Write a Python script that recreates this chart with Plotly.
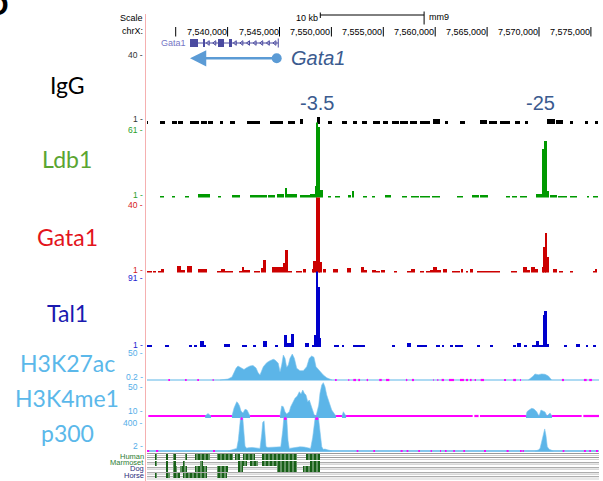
import plotly.graph_objects as go
import numpy as np

W, H = 603, 481
LPX, RPX = 147, 599

# ---------------- data ----------------
X_RANGE_KB = [7532.235, 7575.78]

RULER_TICKS_KB = [7535, 7540, 7545, 7550, 7555, 7560, 7565, 7570, 7575]
RULER_LABELS = ["", "7,540,000", "7,545,000", "7,550,000", "7,555,000",
                "7,560,000", "7,565,000", "7,570,000", "7,575,000"]
SCALE_BAR_START_KB = 7548.93
SCALE_BAR_KB = 10

GENE_NAME = "Gata1"
GENE_SPAN_KB = (7536.38, 7544.88)
GENE_EXONS_KB = [(7536.38, 7537.15), (7537.68, 7537.82), (7539.08, 7539.65), (7540.13, 7540.42)]
TSS_KB = 7544.73
ARROW_END_KB = 7536.38

PEAK_LABELS = ["-3.5", "-25"]
PEAK_LABEL_KB = [7548.58, 7570.10]

# (start_kb, end_kb, value)
IGG = [
    (7532.14, 7532.36, 2.5), (7533.49, 7533.97, 2.5), (7534.61, 7535.10, 2.5), (7535.25, 7535.73, 2.5),
    (7536.38, 7537.20, 2.8), (7537.40, 7538.00, 2.8), (7538.15, 7538.62, 2.5), (7539.26, 7539.59, 2.5),
    (7540.23, 7540.71, 2.5), (7541.83, 7543.12, 2.5), (7544.08, 7545.36, 2.8), (7545.85, 7546.49, 2.5),
    (7546.97, 7547.29, 4.0), (7548.57, 7548.89, 5.0), (7549.70, 7550.02, 2.5), (7550.98, 7551.46, 2.5),
    (7552.10, 7552.43, 2.5), (7552.91, 7553.39, 2.5), (7554.03, 7554.68, 2.8), (7555.00, 7555.48, 2.5),
    (7555.80, 7556.50, 3.0), (7556.65, 7557.40, 2.8), (7557.55, 7558.20, 3.0), (7558.52, 7559.49, 2.5),
    (7559.81, 7560.45, 4.0), (7560.94, 7561.26, 2.5), (7562.39, 7562.87, 2.5), (7564.31, 7565.00, 3.2),
    (7565.15, 7565.92, 3.0), (7566.24, 7567.20, 2.8), (7567.68, 7568.17, 2.5), (7568.65, 7568.97, 2.5),
    (7570.73, 7571.50, 3.8), (7571.60, 7572.34, 3.5), (7572.98, 7573.30, 2.8), (7574.43, 7574.75, 2.5),
    (7575.39, 7575.71, 2.5),
]
LDB1 = [
    (7533.49, 7533.87, 2.5), (7534.61, 7534.93, 2.5), (7535.90, 7536.31, 2.5), (7537.18, 7538.30, 3.5),
    (7539.10, 7539.33, 2.5), (7540.39, 7541.19, 3.0), (7542.16, 7543.76, 3.0), (7543.92, 7544.60, 3.0),
    (7544.75, 7545.43, 3.5), (7545.53, 7545.75, 9.0), (7545.75, 7546.65, 4.0), (7546.97, 7547.94, 3.0),
    (7547.94, 7548.42, 3.5), (7548.42, 7548.55, 10.0), (7548.55, 7548.74, 70.0), (7548.74, 7548.90, 58.0),
    (7548.90, 7549.16, 7.0), (7549.70, 7549.93, 2.5), (7550.34, 7550.82, 2.5), (7551.63, 7551.85, 3.0),
    (7551.98, 7552.20, 6.4), (7553.07, 7553.39, 2.5), (7553.87, 7554.20, 2.5), (7555.16, 7555.71, 3.0),
    (7556.77, 7557.26, 2.5), (7557.63, 7558.40, 2.5), (7558.55, 7559.49, 2.5), (7559.65, 7560.45, 2.5),
    (7562.07, 7562.71, 2.5), (7563.51, 7564.20, 3.0), (7564.35, 7565.12, 3.0), (7566.82, 7567.20, 2.5),
    (7567.36, 7567.84, 2.5), (7568.17, 7568.81, 2.5), (7569.71, 7570.25, 4.0), (7570.35, 7570.51, 40.0),
    (7570.51, 7570.80, 47.0), (7570.80, 7570.99, 6.0), (7571.05, 7571.70, 3.0), (7571.86, 7572.66, 2.5),
    (7572.98, 7573.62, 2.5), (7574.59, 7574.85, 2.5), (7575.23, 7575.71, 2.5),
]
GATA1 = [
    (7532.14, 7532.68, 2.0), (7532.84, 7533.10, 2.0), (7533.33, 7533.55, 2.0), (7533.55, 7533.87, 3.0),
    (7535.16, 7535.48, 4.5), (7535.48, 7535.90, 2.5), (7536.12, 7536.54, 4.3), (7537.18, 7537.98, 3.0),
    (7538.95, 7539.33, 2.0), (7539.33, 7539.75, 3.0), (7539.75, 7540.55, 2.0), (7541.19, 7541.35, 2.0),
    (7541.35, 7541.58, 4.0), (7541.58, 7542.16, 2.5), (7542.54, 7543.12, 2.0), (7543.28, 7543.37, 3.5),
    (7543.37, 7543.70, 7.5), (7544.24, 7545.30, 3.7), (7545.37, 7545.53, 5.8), (7545.53, 7545.78, 12.6),
    (7545.85, 7546.17, 2.0), (7546.59, 7547.13, 2.0), (7547.29, 7547.52, 3.0), (7548.10, 7548.32, 3.0),
    (7548.32, 7548.51, 6.9), (7548.51, 7548.90, 45.0), (7548.90, 7549.06, 6.3), (7549.16, 7549.48, 3.0),
    (7550.18, 7550.66, 3.0), (7551.53, 7551.85, 3.5), (7552.82, 7553.14, 4.0), (7553.14, 7553.39, 2.5),
    (7553.87, 7554.29, 2.5), (7554.29, 7554.68, 2.0), (7554.74, 7555.16, 2.5), (7556.03, 7556.29, 2.0),
    (7557.25, 7557.63, 2.0), (7557.63, 7558.05, 3.0), (7558.53, 7558.92, 2.0), (7559.08, 7559.50, 2.0),
    (7559.56, 7559.75, 2.5), (7559.75, 7560.13, 4.0), (7560.13, 7560.52, 2.5), (7560.71, 7561.17, 3.0),
    (7561.58, 7562.39, 2.0), (7562.45, 7562.71, 3.0), (7562.96, 7563.19, 2.0), (7563.35, 7563.61, 3.0),
    (7564.00, 7566.24, 2.0), (7567.27, 7567.84, 2.0), (7568.49, 7568.87, 4.0), (7568.87, 7569.12, 2.5),
    (7569.20, 7569.61, 4.0), (7569.61, 7569.93, 3.0), (7570.35, 7570.48, 4.0), (7570.48, 7570.64, 14.3),
    (7570.64, 7570.80, 22.0), (7570.80, 7570.99, 9.0), (7571.38, 7571.70, 3.0), (7571.96, 7572.34, 2.0),
    (7572.98, 7573.30, 2.0), (7575.23, 7575.39, 2.0), (7575.39, 7575.62, 3.0),
]
TAL1 = [
    (7532.14, 7532.68, 3.4), (7533.97, 7534.39, 3.4), (7536.31, 7536.54, 3.4), (7536.79, 7537.02, 3.4),
    (7537.34, 7537.73, 8.0), (7537.73, 7537.92, 4.0), (7539.68, 7540.23, 4.5), (7541.35, 7541.83, 3.4),
    (7542.48, 7542.73, 3.4), (7543.37, 7543.76, 8.0), (7544.56, 7544.82, 3.4), (7545.43, 7545.69, 16.0),
    (7545.69, 7546.11, 6.0), (7546.11, 7546.40, 17.0), (7547.45, 7547.84, 6.0), (7548.16, 7548.38, 3.4),
    (7548.38, 7548.51, 15.0), (7548.51, 7548.74, 95.0), (7548.74, 7548.90, 74.0), (7548.90, 7549.00, 12.0),
    (7550.25, 7550.76, 3.4), (7550.98, 7551.21, 3.4), (7552.10, 7553.23, 3.4), (7555.80, 7556.12, 3.4),
    (7557.31, 7557.63, 6.0), (7558.21, 7559.17, 3.4), (7560.07, 7560.46, 3.4), (7560.62, 7560.84, 3.4),
    (7561.42, 7561.68, 3.4), (7561.90, 7562.64, 3.4), (7564.06, 7564.31, 3.4), (7565.28, 7565.53, 3.4),
    (7567.46, 7567.78, 3.4), (7567.84, 7568.23, 5.5), (7568.55, 7568.87, 3.4), (7569.29, 7569.71, 3.4),
    (7569.71, 7570.03, 8.0), (7570.03, 7570.41, 3.4), (7570.41, 7570.51, 40.0), (7570.51, 7570.80, 45.0),
    (7570.80, 7570.99, 5.0), (7572.41, 7572.66, 3.4), (7573.56, 7573.95, 4.5), (7574.53, 7574.75, 3.4),
    (7575.17, 7575.49, 3.4),
]

# histone / p300 profiles: clusters of (kb, value)
H3K27AC = [
    [(7539.27, 0.2), (7540.04, 2.0), (7540.42, 5.7), (7540.62, 15.0), (7540.81, 21.8), (7541.00, 26.0),
     (7541.29, 23.3), (7541.58, 19.6), (7541.87, 23.3), (7542.16, 26.0), (7542.45, 26.9), (7542.74, 22.3),
     (7542.93, 14.0), (7543.12, 9.4), (7543.44, 24.7), (7543.77, 32.1), (7544.08, 35.8), (7544.40, 38.4),
     (7544.57, 37.1), (7544.88, 31.0), (7545.05, 15.5), (7545.21, 27.9), (7545.37, 46.3), (7545.53, 40.2),
     (7545.69, 23.6), (7545.85, 27.9), (7546.01, 40.2), (7546.23, 48.1), (7546.43, 40.2), (7546.66, 21.8),
     (7546.97, 17.4), (7547.29, 17.4), (7547.62, 24.7), (7547.87, 40.2), (7548.10, 44.5), (7548.32, 42.1),
     (7548.52, 24.7), (7548.74, 19.9), (7548.97, 15.5), (7549.22, 9.4), (7549.55, 4.4), (7549.87, 1.5),
     (7550.06, 0.2)],
    [(7568.97, 0.2), (7569.20, 3.3), (7569.45, 7.6), (7569.61, 11.3), (7569.93, 10.0), (7570.26, 11.3),
     (7570.58, 10.7), (7570.90, 7.6), (7571.13, 1.5), (7571.22, 0.2)],
]
H3K27AC_CLIPPED = [
    (7534.29, 7534.45), (7535.90, 7536.06), (7537.08, 7537.24), (7538.56, 7538.66), (7550.35, 7550.51),
    (7551.63, 7551.72), (7552.11, 7552.37), (7552.59, 7552.76), (7553.40, 7553.53), (7554.61, 7554.85),
    (7555.26, 7555.58), (7557.18, 7557.31), (7557.76, 7557.96), (7559.82, 7559.88), (7560.20, 7560.30),
    (7560.62, 7560.85), (7561.33, 7561.81), (7562.39, 7562.77), (7562.96, 7563.16), (7563.35, 7563.51),
    (7563.80, 7563.93), (7564.38, 7564.70), (7566.63, 7566.82), (7567.52, 7567.78), (7568.17, 7568.26),
    (7572.21, 7572.41), (7574.33, 7574.59), (7574.84, 7575.10),
]
H3K4ME1 = [
    [(7537.84, 10), (7538.11, 13.2), (7538.40, 10)],
    [(7540.42, 10), (7540.62, 20.3), (7540.88, 28.4), (7541.00, 26.8), (7541.15, 22.9), (7541.29, 16.5),
     (7541.48, 13.9), (7541.68, 18.6), (7541.87, 17.7), (7542.06, 12.6), (7542.16, 10)],
    [(7545.05, 10), (7545.21, 22.9), (7545.37, 22.0), (7545.53, 15.5), (7545.69, 12.6), (7545.94, 15.5),
     (7546.08, 22.0), (7546.27, 26.4), (7546.49, 32.8), (7546.71, 35.8), (7546.91, 41.3), (7547.07, 38.4),
     (7547.24, 43.5), (7547.39, 39.3), (7547.55, 37.1), (7547.72, 28.4), (7547.87, 30.6), (7548.03, 24.2),
     (7548.20, 17.7), (7548.35, 11.3), (7548.52, 10), (7548.64, 15.5), (7548.78, 24.2), (7548.90, 39.3),
     (7549.07, 50.0), (7549.22, 53.0), (7549.38, 47.8), (7549.55, 37.1), (7549.70, 30.6), (7549.87, 24.2),
     (7550.03, 17.7), (7550.25, 13.5), (7550.44, 10)],
    [(7551.02, 10), (7551.15, 15.5), (7551.41, 10)],
    [(7568.75, 10), (7568.84, 15.5), (7569.04, 17.7), (7569.30, 19.9), (7569.52, 19.0), (7569.78, 15.5),
     (7570.00, 10), (7570.19, 17.7), (7570.38, 16.5), (7570.58, 15.2), (7570.77, 10), (7571.06, 13.9),
     (7571.25, 10)],
]
H3K4ME1_CLIPPED = [(7532.36, 7563.61), (7563.77, 7564.18), (7564.31, 7574.11), (7574.27, 7575.78)]
P300 = [
    [(7540.04, 2), (7540.42, 15), (7540.62, 30), (7540.88, 33.6), (7541.03, 130.7), (7541.13, 286),
     (7541.26, 420), (7541.45, 420), (7541.58, 209), (7541.68, 60.5), (7541.84, 35), (7541.97, 40),
     (7542.36, 45), (7542.74, 40), (7543.03, 35), (7543.12, 33.6), (7543.29, 209), (7543.38, 345),
     (7543.51, 365), (7543.60, 209), (7543.70, 52), (7543.89, 45), (7544.28, 45), (7544.66, 50),
     (7544.95, 45), (7545.12, 52), (7545.31, 248), (7545.43, 420), (7545.69, 420), (7545.82, 131),
     (7545.94, 33.6), (7546.20, 40), (7546.59, 50), (7546.97, 52), (7547.36, 50), (7547.74, 45),
     (7548.00, 33.6), (7548.20, 169), (7548.32, 326), (7548.45, 420), (7548.74, 420), (7548.90, 248),
     (7549.07, 52), (7549.22, 22), (7549.38, 25), (7549.67, 15), (7550.06, 2)],
    [(7569.60, 2), (7569.93, 13.7), (7570.10, 33.6), (7570.29, 131), (7570.41, 228), (7570.55, 268),
     (7570.67, 189), (7570.80, 52), (7570.99, 22), (7571.38, 2)],
]
P300_CLIPPED_HIGH = [(7541.26, 7541.45), (7545.43, 7545.69), (7548.45, 7548.74)]
P300_CLIPPED_LOW = [
    (7532.24, 7532.45), (7533.10, 7533.32), (7538.59, 7538.79), (7552.44, 7552.59), (7554.04, 7554.20),
    (7556.67, 7556.86), (7557.25, 7557.41), (7558.37, 7558.53), (7559.56, 7559.69), (7560.46, 7560.56),
    (7560.94, 7561.10), (7561.74, 7561.90), (7562.71, 7562.87), (7564.70, 7564.89), (7566.88, 7567.07),
    (7568.17, 7568.33), (7568.42, 7568.55), (7572.28, 7572.44), (7574.33, 7574.52), (7574.84, 7575.01),
    (7575.49, 7575.68),
]

CONS_SPECIES = ["Human", "Marmoset", "Dog", "Horse"]
HUMAN_BLOCKS = [(7533.01, 7533.23), (7534.07, 7534.29), (7534.77, 7535.03), (7535.90, 7536.12), (7536.86, 7538.30),
                (7538.95, 7540.55), (7540.71, 7541.19), (7541.51, 7542.64), (7543.29, 7546.66), (7547.55, 7548.90)]
MARMOSET_BLOCKS = [(7533.01, 7533.23), (7534.07, 7534.29), (7534.77, 7535.00), (7535.73, 7535.90), (7537.34, 7537.66),
                   (7541.03, 7541.84), (7542.16, 7542.96), (7543.29, 7546.66), (7547.94, 7548.90)]
DOG_BLOCKS = [(7534.07, 7534.29), (7534.77, 7535.10), (7535.41, 7536.06), (7536.86, 7537.99), (7538.95, 7540.07),
              (7541.03, 7541.51), (7544.73, 7546.66), (7547.29, 7548.90)]
HORSE_BLOCKS = [(7533.01, 7533.23), (7534.07, 7534.45), (7534.77, 7535.41), (7535.73, 7537.99), (7539.01, 7539.97)]

# ---------------- styling / layout helpers ----------------
LIGHT_BLUE = "#5cb5e8"
MAGENTA = "#ff00ff"


def pyp(p):
    return 1 - p / H


def pxp(p):
    return (p - LPX) / (RPX - LPX)


def lin_axis(dom_top, dom_bot, top_px, top_val, bot_px, bot_val):
    k = (top_val - bot_val) / (bot_px - top_px)
    lo = bot_val - (dom_bot - bot_px) * k
    hi = top_val + (top_px - dom_top) * k
    return dict(domain=[pyp(dom_bot), pyp(dom_top)], range=[lo, hi], visible=False,
                fixedrange=True, anchor="x")


fig = go.Figure()


def add_bars(segs, base, color, yref):
    fig.add_trace(go.Bar(
        x=[(s + e) / 2 for s, e, v in segs], width=[e - s for s, e, v in segs],
        y=[v - base for s, e, v in segs], base=base, marker=dict(color=color, line=dict(width=0)),
        yaxis=yref, showlegend=False, hoverinfo="skip"))


def seg_line(segs, val):
    xs, ys = [], []
    for s, e in segs:
        xs += [s, e, None]
        ys += [val, val, None]
    return xs, ys


# ---- header (pixel coordinates on yaxis 'y') ----
tx, ty = [], []
for t in RULER_TICKS_KB:
    tx += [t, t, None]
    ty += [27, 36.5, None]
fig.add_trace(go.Scatter(x=tx, y=ty, mode="lines", line=dict(color="black", width=1),
                         yaxis="y", showlegend=False, hoverinfo="skip"))
sb_e = SCALE_BAR_START_KB + SCALE_BAR_KB
fig.add_trace(go.Scatter(
    x=[SCALE_BAR_START_KB, sb_e, None, SCALE_BAR_START_KB, SCALE_BAR_START_KB, None, sb_e, sb_e],
    y=[15, 15, None, 12.5, 18, None, 11.5, 24.5], mode="lines", line=dict(color="black", width=1),
    yaxis="y", showlegend=False, hoverinfo="skip"))
GENE_COL = "#4b4ba0"
fig.add_trace(go.Scatter(x=[GENE_SPAN_KB[0], GENE_SPAN_KB[1], None, GENE_SPAN_KB[1], GENE_SPAN_KB[1]],
                         y=[43, 43, None, 38.5, 47.5], mode="lines", line=dict(color=GENE_COL, width=1),
                         yaxis="y", showlegend=False, hoverinfo="skip"))
chev = []
for (a, b) in zip([e for s, e in GENE_EXONS_KB[:-1]] + [GENE_EXONS_KB[-1][1]],
                  [s for s, e in GENE_EXONS_KB[1:]] + [GENE_SPAN_KB[1]]):
    n = int((b - a) / 0.6)
    for i in range(n):
        chev.append(a + (i + 0.5) * (b - a) / max(n, 1))
fig.add_trace(go.Scatter(x=chev, y=[43] * len(chev), mode="markers",
                         marker=dict(symbol="triangle-left-open", size=4, color=GENE_COL,
                                     line=dict(width=1, color=GENE_COL)),
                         yaxis="y", showlegend=False, hoverinfo="skip"))
fig.add_trace(go.Bar(x=[(s + e) / 2 for s, e in GENE_EXONS_KB], width=[e - s for s, e in GENE_EXONS_KB],
                     y=[8] * len(GENE_EXONS_KB), base=39, marker=dict(color=GENE_COL, line=dict(width=0)),
                     yaxis="y", showlegend=False, hoverinfo="skip"))
ARROW_COL = "#5b9bd5"
fig.add_trace(go.Scatter(x=[TSS_KB], y=[58.3], mode="markers", marker=dict(size=10, color=ARROW_COL),
                         yaxis="y", showlegend=False, hoverinfo="skip"))

# ---- tracks ----
add_bars(IGG, 1, "black", "y2")
add_bars(LDB1, 1, "#009900", "y3")
add_bars(GATA1, 1, "#cc0000", "y4")
add_bars(TAL1, 1, "#0000cc", "y5")

xs, ys = seg_line([(X_RANGE_KB[0], X_RANGE_KB[1])], 0.2)
fig.add_trace(go.Scatter(x=xs, y=ys, mode="lines", line=dict(color=LIGHT_BLUE, width=1.2),
                         yaxis="y6", showlegend=False, hoverinfo="skip"))
for cl in H3K27AC:
    fig.add_trace(go.Scatter(x=[p[0] for p in cl], y=[p[1] for p in cl], mode="lines", fill="tozeroy",
                             fillcolor=LIGHT_BLUE, line=dict(color="#7cc4ee", width=0.6),
                             yaxis="y6", showlegend=False, hoverinfo="skip"))
xs, ys = seg_line(H3K27AC_CLIPPED, 0.2)
fig.add_trace(go.Scatter(x=xs, y=ys, mode="lines", line=dict(color=MAGENTA, width=2.2),
                         yaxis="y6", showlegend=False, hoverinfo="skip"))

xs, ys = seg_line(H3K4ME1_CLIPPED, 10)
fig.add_trace(go.Scatter(x=xs, y=ys, mode="lines", line=dict(color=MAGENTA, width=2.2),
                         yaxis="y7", showlegend=False, hoverinfo="skip"))
for cl in H3K4ME1:
    fig.add_trace(go.Scatter(x=[p[0] for p in cl], y=[p[1] for p in cl], mode="lines", fill="tozeroy",
                             fillcolor=LIGHT_BLUE, line=dict(color="#7cc4ee", width=0.6),
                             yaxis="y7", showlegend=False, hoverinfo="skip"))

xs, ys = seg_line([(X_RANGE_KB[0], X_RANGE_KB[1])], 2)
fig.add_trace(go.Scatter(x=xs, y=ys, mode="lines", line=dict(color=LIGHT_BLUE, width=1.5),
                         yaxis="y8", showlegend=False, hoverinfo="skip"))
for cl in P300:
    fig.add_trace(go.Scatter(x=[p[0] for p in cl], y=[p[1] for p in cl], mode="lines", fill="tozeroy",
                             fillcolor=LIGHT_BLUE, line=dict(color="#7cc4ee", width=0.6),
                             yaxis="y8", showlegend=False, hoverinfo="skip"))
xs, ys = seg_line(P300_CLIPPED_LOW, 2)
fig.add_trace(go.Scatter(x=xs, y=ys, mode="lines", line=dict(color=MAGENTA, width=2),
                         yaxis="y8", showlegend=False, hoverinfo="skip"))
xs, ys = seg_line(P300_CLIPPED_HIGH, 392)
fig.add_trace(go.Scatter(x=xs, y=ys, mode="lines", line=dict(color=MAGENTA, width=2.5),
                         yaxis="y8", showlegend=False, hoverinfo="skip"))

# conservation (pixel coordinates on y9)
ROW_TOP = [453.5, 460.5, 466.3, 472.8]
ROW_H = [6.0, 5.0, 5.4, 5.4]
for blocks, top, hgt in zip([HUMAN_BLOCKS, MARMOSET_BLOCKS, DOG_BLOCKS, HORSE_BLOCKS], ROW_TOP, ROW_H):
    fig.add_trace(go.Bar(x=[(s + e) / 2 for s, e in blocks], width=[e - s for s, e in blocks],
                         y=[hgt] * len(blocks), base=top,
                         marker=dict(color="#175f17", line=dict(width=0),
                                     pattern=dict(shape="|", fgcolor="white", fgopacity=0.55,
                                                  size=4, solidity=0.3, fillmode="overlay")),
                         yaxis="y9", showlegend=False, hoverinfo="skip"))

# ---------------- layout ----------------
shapes = []
for yy, col in [(453.5, "#9a9a9a"), (455.5, "#cfcfcf"), (457.5, "#9a9a9a"), (459.5, "#cfcfcf"),
                (462.7, "#9a9a9a"), (464.3, "#cfcfcf"), (467.7, "#9a9a9a"), (469.3, "#cfcfcf"),
                (472.7, "#9a9a9a"), (474.3, "#cfcfcf"), (476.7, "#9a9a9a"), (479.0, "#cfcfcf")]:
    shapes.append(dict(type="line", xref="paper", yref="paper", x0=0, x1=1, y0=pyp(yy), y1=pyp(yy),
                       line=dict(color=col, width=1), layer="below"))
shapes.append(dict(type="line", xref="paper", yref="paper", x0=pxp(145.5), x1=pxp(145.5),
                   y0=0, y1=pyp(14), line=dict(color="#f5b0b0", width=1)))

ann = []


def txt(text, xpx, ypx, size, color, family="Liberation Sans", xanchor="right"):
    ann.append(dict(text=text, x=pxp(xpx), y=pyp(ypx), xref="paper", yref="paper", xanchor=xanchor,
                    yanchor="middle", showarrow=False, borderpad=0,
                    font=dict(family=family, size=size, color=color)))


txt("Scale", 144, 18, 9, "black")
txt("chrX:", 144, 31, 9, "black")
txt("<b>D</b>", 10, 5, 30, "black")

for t, lab in zip(RULER_TICKS_KB, RULER_LABELS):
    if lab:
        ann.append(dict(text=lab, x=t, y=32.3, xref="x", yref="y", xanchor="right", yanchor="middle",
                        xshift=1, showarrow=False, font=dict(family="Liberation Sans", size=9, color="black")))
ann.append(dict(text=f"{SCALE_BAR_KB} kb", x=SCALE_BAR_START_KB, y=18, xref="x", yref="y", xanchor="right",
                yanchor="middle", showarrow=False, font=dict(family="Liberation Sans", size=9, color="black")))
ann.append(dict(text="mm9", x=sb_e, y=17.3, xref="x", yref="y", xanchor="left", xshift=3,
                yanchor="middle", showarrow=False, font=dict(family="Liberation Sans", size=9, color="black")))
ann.append(dict(text=GENE_NAME, x=GENE_SPAN_KB[0], y=43, xref="x", yref="y", xanchor="right", xshift=-2,
                yanchor="middle", showarrow=False, font=dict(family="Liberation Sans", size=9, color="#7575c5")))
ann.append(dict(x=ARROW_END_KB, y=58.3, ax=TSS_KB, ay=58.3, xref="x", yref="y", axref="x", ayref="y",
                text="", showarrow=True, arrowhead=2, arrowsize=1.3, arrowwidth=2.5, arrowcolor=ARROW_COL,
                standoff=0))
ann.append(dict(text=f"<i>{GENE_NAME}</i>", x=TSS_KB, y=58.3, xref="x", yref="y", xanchor="left", xshift=12,
                yanchor="middle", showarrow=False, font=dict(family="Liberation Sans", size=20, color="#3b5b8f")))
for lab, kb in zip(PEAK_LABELS, PEAK_LABEL_KB):
    ann.append(dict(text=lab, x=kb, y=pyp(103), xref="x", yref="paper", xanchor="center", yanchor="middle",
                    showarrow=False, font=dict(family="Liberation Sans", size=20, color="#3b5b8f")))

BIG = "Lato"
for name, ypx, col in [("IgG", 85, "black"), ("Ldb1", 159, "#5aa532"), ("Gata1", 237, "#e3141c"),
                       ("Tal1", 313, "#1a1ab0"), ("H3K27ac", 363, "#5bb8ea"), ("H3K4me1", 398, "#5bb8ea"),
                       ("p300", 433, "#5bb8ea")]:
    txt(name, 67, ypx, 23, col, family=BIG, xanchor="center")

for text, ypx, col in [("40 -", 55, "#333333"), ("1 -", 119, "#333333"),
                       ("61 -", 130, "#2ca02c"), ("1 -", 195, "#2ca02c"),
                       ("40 -", 204.7, "#d62020"), ("1 -", 270.2, "#d62020"),
                       ("91 -", 278.2, "#2525d0"), ("1 -", 345, "#2525d0"),
                       ("50 -", 353, "#55aee8"), ("0.2 -", 376.7, "#55aee8"),
                       ("50 -", 387, "#55aee8"), ("10 -", 411, "#55aee8"),
                       ("400 -", 422.7, "#55aee8"), ("2 -", 445.7, "#55aee8")]:
    txt(text, 144, ypx, 8.5, col)

for sp, ypx, col in zip(CONS_SPECIES, [456, 462.3, 468.7, 475.2], ["#2e7d32", "#2e7d32", "#2b2b7a", "#2b2b7a"]):
    txt(sp, 145, ypx, 7.5, col)

layout = dict(
    width=W, height=H, autosize=False,
    margin=dict(l=LPX, r=W - RPX, t=0, b=0, pad=0),
    paper_bgcolor="white", plot_bgcolor="rgba(0,0,0,0)",
    barmode="overlay", bargap=0, showlegend=False,
    xaxis=dict(range=X_RANGE_KB, visible=False, domain=[0, 1], fixedrange=True, anchor="y"),
    yaxis=dict(domain=[pyp(70), 1], range=[70, 0], visible=False, fixedrange=True, anchor="x"),
    yaxis2=lin_axis(70, 124.5, 57, 40, 124, 1),
    yaxis3=lin_axis(122.5, 197.5, 123, 61, 197, 1),
    yaxis4=lin_axis(197.5, 272.5, 198, 40, 272, 1),
    yaxis5=lin_axis(271.5, 347.5, 272, 91, 346.5, 1),
    yaxis6=lin_axis(349, 382, 353, 50, 380, 0.2),
    yaxis7=lin_axis(382, 418, 385, 50, 416, 10),
    yaxis8=lin_axis(417, 453, 418, 400, 451, 2),
    yaxis9=dict(domain=[0, pyp(453)], range=[481, 453], visible=False, fixedrange=True, anchor="x"),
    shapes=shapes, annotations=ann,
)
fig.update_layout(**layout)
fig.write_html("out.html")
